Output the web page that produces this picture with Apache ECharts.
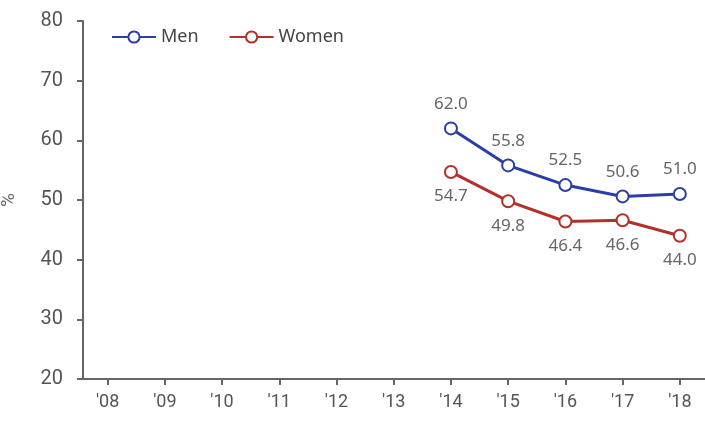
<!DOCTYPE html>
<html>
<head>
<meta charset="utf-8">
<script src="https://cdn.jsdelivr.net/npm/echarts@6/dist/echarts.min.js"></script>
<style>
  html, body { margin: 0; padding: 0; background: #fff; }
  #chart { width: 705px; height: 435px; }
</style>
</head>
<body>
<div id="chart"></div>
<script>
// years shown on the x axis
const years = [2008, 2009, 2010, 2011, 2012, 2013, 2014, 2015, 2016, 2017, 2018]
// survey years with data
const dataYears = [2014, 2015, 2016, 2017, 2018]
const menValues = [62.0, 55.8, 52.5, 50.6, 51.0]
const womenValues = [54.7, 49.8, 46.4, 46.6, 44.0]

const textColor = '#555'
const axisColor = '#666'

function pairs (xs, ys) {
    return xs.map((x, i) => [x, ys[i]])
}

function makeSeries (name, color, values, labelPos) {
    return {
        name: name,
        type: 'line',
        data: pairs(dataYears, values),
        symbol: 'emptyCircle',
        symbolSize: 12,
        lineStyle: { color: color, width: 3 },
        itemStyle: { color: color, borderColor: color, borderWidth: 1.5 },
        label: {
            show: true,
            position: labelPos,
            distance: 9,
            color: '#666',
            fontSize: 17,
            fontFamily: 'Noto Sans',
            formatter: p => p.value[1].toFixed(1)
        }
    }
}

const chart = echarts.init(document.getElementById('chart'))
chart.setOption({
    animation: false,
    backgroundColor: '#fff',
    textStyle: { fontFamily: 'Roboto' },
    legend: {
        left: 106,
        top: 23,
        itemWidth: 44,
        itemHeight: 14,
        itemGap: 30,
        textStyle: { color: '#444', fontSize: 18, fontFamily: 'Noto Sans' },
        data: ['Men', 'Women']
    },
    grid: { left: 83, right: 0, top: 21, bottom: 56, outerBoundsMode: 'none' },
    xAxis: {
        type: 'value',
        min: 2007.57,
        max: 2018.44,
        axisLine: { show: true, lineStyle: { color: axisColor, width: 2 } },
        axisTick: { show: true, length: 6, lineStyle: { color: axisColor, width: 2 }, customValues: years },
        axisLabel: {
            color: textColor,
            fontSize: 18,
            margin: 14,
            customValues: years,
            formatter: v => "'" + String(v).slice(2)
        },
        splitLine: { show: false }
    },
    yAxis: {
        type: 'value',
        min: 20,
        max: 80,
        interval: 10,
        name: '%',
        nameLocation: 'middle',
        nameGap: 64,
        nameTextStyle: { color: '#666', fontSize: 19 },
        axisLine: { show: true, lineStyle: { color: axisColor, width: 2 } },
        axisTick: { show: true, length: 6, lineStyle: { color: axisColor, width: 2 } },
        axisLabel: { color: textColor, fontSize: 20, margin: 20 },
        splitLine: { show: false }
    },
    series: [
        makeSeries('Men', '#2b3fa3', menValues, 'top'),
        makeSeries('Women', '#b3302c', womenValues, 'bottom')
    ]
})
</script>
</body>
</html>
